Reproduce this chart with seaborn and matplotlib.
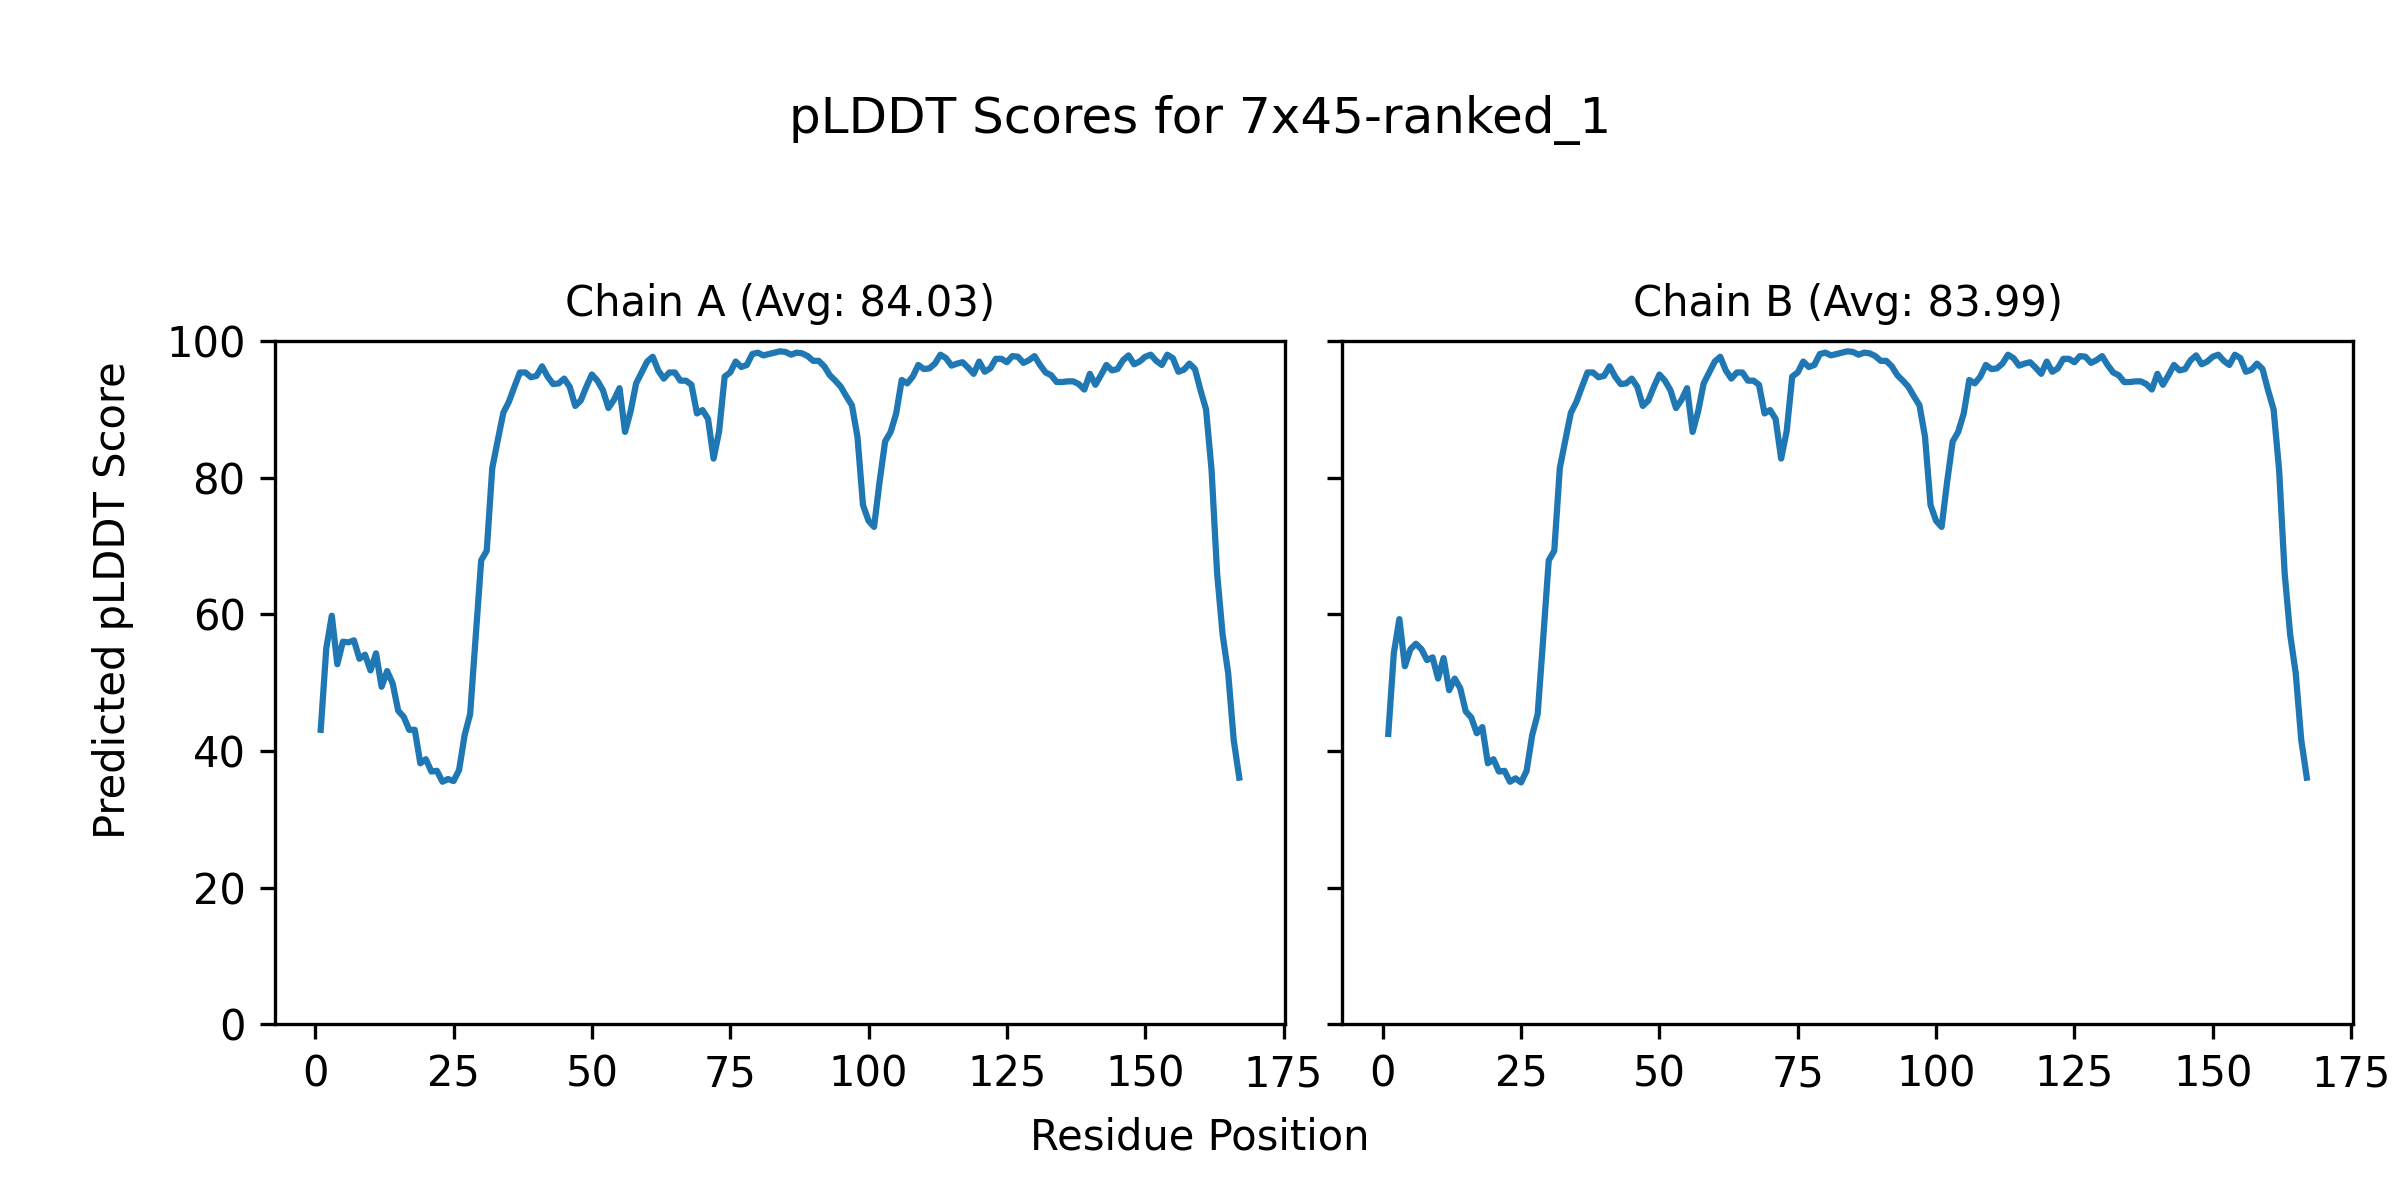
import numpy as np
import pandas as pd
import seaborn as sns
import matplotlib.pyplot as plt

# pLDDT values per residue
chain_a = [
    43.1, 55.0, 59.8, 52.7, 56.0, 55.9, 56.2, 53.5, 54.1, 51.8,
    54.3, 49.4, 51.7, 49.9, 45.9, 45.0, 43.1, 43.1, 38.2, 38.8,
    37.0, 37.1, 35.5, 35.9, 35.6, 37.2, 42.3, 45.4, 56.7, 67.9,
    69.3, 81.4, 85.5, 89.5, 91.1, 93.3, 95.4, 95.4, 94.7, 94.9,
    96.3, 94.8, 93.7, 93.8, 94.5, 93.3, 90.5, 91.3, 93.3, 95.1,
    94.2, 92.8, 90.2, 91.4, 93.1, 86.7, 89.7, 93.8, 95.4, 97.0,
    97.7, 95.7, 94.5, 95.4, 95.4, 94.2, 94.2, 93.6, 89.4, 89.9,
    88.6, 82.8, 86.8, 94.8, 95.4, 97.0, 96.2, 96.5, 98.1, 98.3,
    97.9, 98.1, 98.3, 98.5, 98.4, 98.0, 98.3, 98.2, 97.8, 97.1,
    97.1, 96.3, 95.0, 94.2, 93.3, 91.9, 90.6, 86.0, 76.0, 73.7,
    72.8, 79.4, 85.3, 86.7, 89.4, 94.3, 93.8, 94.8, 96.5, 95.9,
    96.0, 96.7, 98.0, 97.5, 96.4, 96.7, 96.9, 96.1, 95.2, 97.0,
    95.5, 96.0, 97.4, 97.4, 96.9, 97.8, 97.7, 96.8, 97.2, 97.8,
    96.5, 95.4, 95.0, 94.0, 94.0, 94.1, 94.1, 93.7, 92.9, 95.2,
    93.6, 95.0, 96.5, 95.7, 95.9, 97.2, 97.9, 96.6, 97.0, 97.7,
    98.0, 97.1, 96.5, 98.0, 97.5, 95.5, 95.8, 96.7, 95.9, 92.8,
    90.0, 81.1, 66.0, 57.0, 51.4, 41.6, 36.1,
]

chain_b = [
    42.5, 54.3, 59.3, 52.4, 54.9, 55.7, 54.9, 53.3, 53.7, 50.6,
    53.6, 48.9, 50.6, 49.2, 45.8, 44.9, 42.6, 43.5, 38.2, 38.8,
    37.0, 37.1, 35.5, 36.0, 35.4, 37.1, 42.3, 45.4, 56.5, 67.9,
    69.3, 81.4, 85.5, 89.5, 91.1, 93.3, 95.4, 95.4, 94.7, 94.9,
    96.3, 94.8, 93.7, 93.8, 94.5, 93.3, 90.5, 91.3, 93.3, 95.1,
    94.2, 92.8, 90.2, 91.4, 93.1, 86.7, 89.7, 93.8, 95.4, 97.0,
    97.7, 95.7, 94.5, 95.4, 95.4, 94.2, 94.2, 93.6, 89.4, 89.9,
    88.6, 82.8, 86.8, 94.8, 95.4, 97.0, 96.2, 96.5, 98.1, 98.3,
    97.9, 98.1, 98.3, 98.5, 98.4, 98.0, 98.3, 98.2, 97.8, 97.1,
    97.1, 96.3, 95.0, 94.2, 93.3, 91.9, 90.6, 86.0, 76.0, 73.7,
    72.8, 79.4, 85.3, 86.7, 89.4, 94.3, 93.8, 94.8, 96.5, 95.9,
    96.0, 96.7, 98.0, 97.5, 96.4, 96.7, 96.9, 96.1, 95.2, 97.0,
    95.5, 96.0, 97.4, 97.4, 96.9, 97.8, 97.7, 96.8, 97.2, 97.8,
    96.5, 95.4, 95.0, 94.0, 94.0, 94.1, 94.1, 93.7, 92.9, 95.2,
    93.6, 95.0, 96.5, 95.7, 95.9, 97.2, 97.9, 96.6, 97.0, 97.7,
    98.0, 97.1, 96.5, 98.0, 97.5, 95.5, 95.8, 96.7, 95.9, 92.8,
    90.0, 81.1, 66.0, 57.0, 51.4, 41.6, 36.1,
]

chains = ['A', 'B']
averages = [84.03, 83.99]
scores = [chain_a, chain_b]

fig, axes = plt.subplots(1, 2, figsize=(8, 4), dpi=300, sharey=True)
fig.subplots_adjust(left=0.1145, right=0.9803, top=0.7158, bottom=0.1464, wspace=0.0566)

for ax, chain, avg, vals in zip(axes, chains, averages, scores):
    df = pd.DataFrame({'residue': np.arange(1, len(vals) + 1), 'plddt': vals})
    sns.lineplot(data=df, x='residue', y='plddt', ax=ax, color='#1f77b4', linewidth=1.5)
    ax.set_title(f'Chain {chain} (Avg: {avg:.2f})', fontsize=10)
    ax.set_xlabel('')
    ax.set_ylabel('')
    ax.set_ylim(0, 100)
    ax.set_xticks([0, 25, 50, 75, 100, 125, 150, 175])

fig.suptitle('pLDDT Scores for 7x45-ranked_1', fontsize=12, y=0.9, va='center')
fig.text(0.5, 0.0525, 'Residue Position', ha='center', va='center', fontsize=10)
fig.text(0.047, 0.5, 'Predicted pLDDT Score', ha='center', va='center', rotation=90, fontsize=10)

plt.savefig('out.png', dpi=300)
plt.close()
